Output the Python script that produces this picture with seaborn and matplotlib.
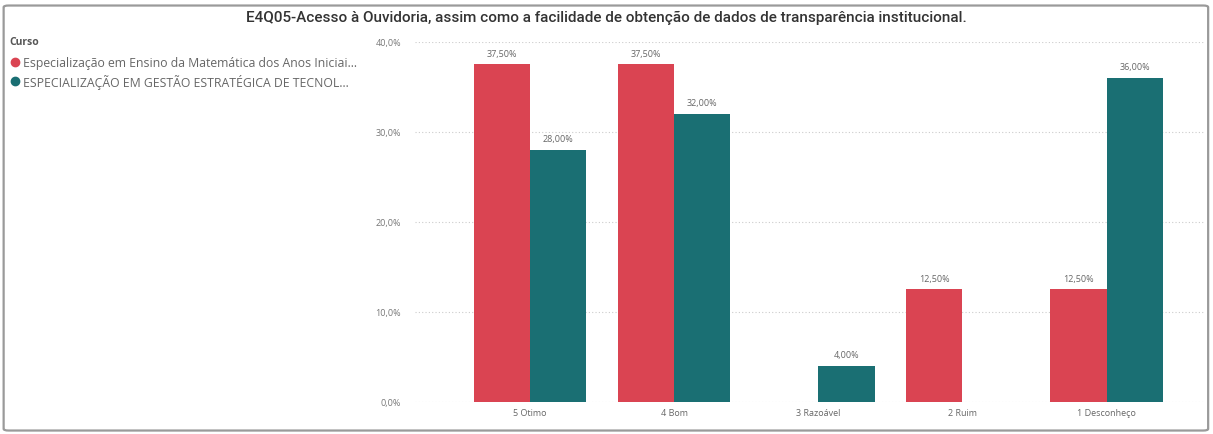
import matplotlib
matplotlib.use("Agg")
import matplotlib.pyplot as plt
import seaborn as sns
import pandas as pd
from matplotlib.patches import FancyBboxPatch
from matplotlib.lines import Line2D

categories = ["5 Otimo", "4 Bom", "3 Razoável", "2 Ruim", "1 Desconheço"]
series_names = ["Especialização em Ensino da Matemática dos Anos Iniciai...",
                "ESPECIALIZAÇÃO EM GESTÃO ESTRATÉGICA DE TECNOL..."]
values_matematica = [37.5, 37.5, 0.0, 12.5, 12.5]
values_gestao = [28.0, 32.0, 4.0, 0.0, 36.0]
y_ticks = [0, 10, 20, 30, 40]
y_tick_labels = ["0,0%", "10,0%", "20,0%", "30,0%", "40,0%"]
title = "E4Q05-Acesso à Ouvidoria, assim como a facilidade de obtenção de dados de transparência institucional."
colors = ["#DA4452", "#1A6F73"]

rows = []
for c, v in zip(categories, values_matematica):
    rows.append({"cat": c, "serie": series_names[0], "val": v})
for c, v in zip(categories, values_gestao):
    rows.append({"cat": c, "serie": series_names[1], "val": v})
df = pd.DataFrame(rows)

sns.set_theme(style="white")
plt.rcParams['font.family'] = ['Open Sans', 'DejaVu Sans']

fig = plt.figure(figsize=(12.13, 4.35), dpi=100)
ax = fig.add_axes([0.342, 0.0736, 0.651, 0.8276])

sns.barplot(data=df, x="cat", y="val", hue="serie", order=categories,
            hue_order=series_names, palette=colors, width=0.78,
            saturation=1, ax=ax, legend=False, errorbar=None, linewidth=0)

for cont in ax.containers:
    for bar in cont:
        h = bar.get_height()
        if h > 0:
            ax.annotate(f"{h:.2f}".replace(".", ",") + "%",
                        (bar.get_x() + bar.get_width() / 2, h),
                        xytext=(0, 5), textcoords="offset points",
                        ha="center", va="bottom", fontsize=6.5, color="#666666")

ax.set_ylim(0, 40)
ax.set_xlim(-0.8, 4.68)
ax.set_yticks(y_ticks)
ax.set_yticklabels(y_tick_labels, fontsize=6.5, color="#777777")
ax.tick_params(axis="x", labelsize=6.5, labelcolor="#666666", length=0, pad=4)
ax.tick_params(axis="y", length=0, pad=10)
ax.set_xlabel("")
ax.set_ylabel("")
for s in ax.spines.values():
    s.set_visible(False)
ax.yaxis.grid(True, linestyle=(0, (1, 2)), color="#cccccc", linewidth=0.8)
ax.set_axisbelow(True)

fig.text(0.50, 0.958, title, ha="center", va="center", fontsize=11,
         color="#333333", family=['Roboto', 'DejaVu Sans'], fontweight="medium")

fig.text(0.0075, 0.903, "Curso", ha="left", va="center", fontsize=7.5,
         color="#555555", fontweight="bold")
handles = [Line2D([0], [0], marker="o", linestyle="", markersize=6,
                  markerfacecolor=c, markeredgecolor=c) for c in colors]
leg = fig.legend(handles, series_names, loc="upper left",
                 bbox_to_anchor=(0.0, 0.885), frameon=False, fontsize=8.8,
                 handletextpad=0.05, labelspacing=0.35, borderaxespad=0.2,
                 handlelength=1.2)
for t in leg.get_texts():
    t.set_color("#666666")

frame = FancyBboxPatch((0.003, 0.008), 0.993, 0.977, boxstyle="round,pad=0,rounding_size=0.004",
                       transform=fig.transFigure, fill=False, edgecolor="#9a9a9a",
                       linewidth=1.6, zorder=10)
fig.patches.append(frame)

fig.savefig("out.png", dpi=100)
